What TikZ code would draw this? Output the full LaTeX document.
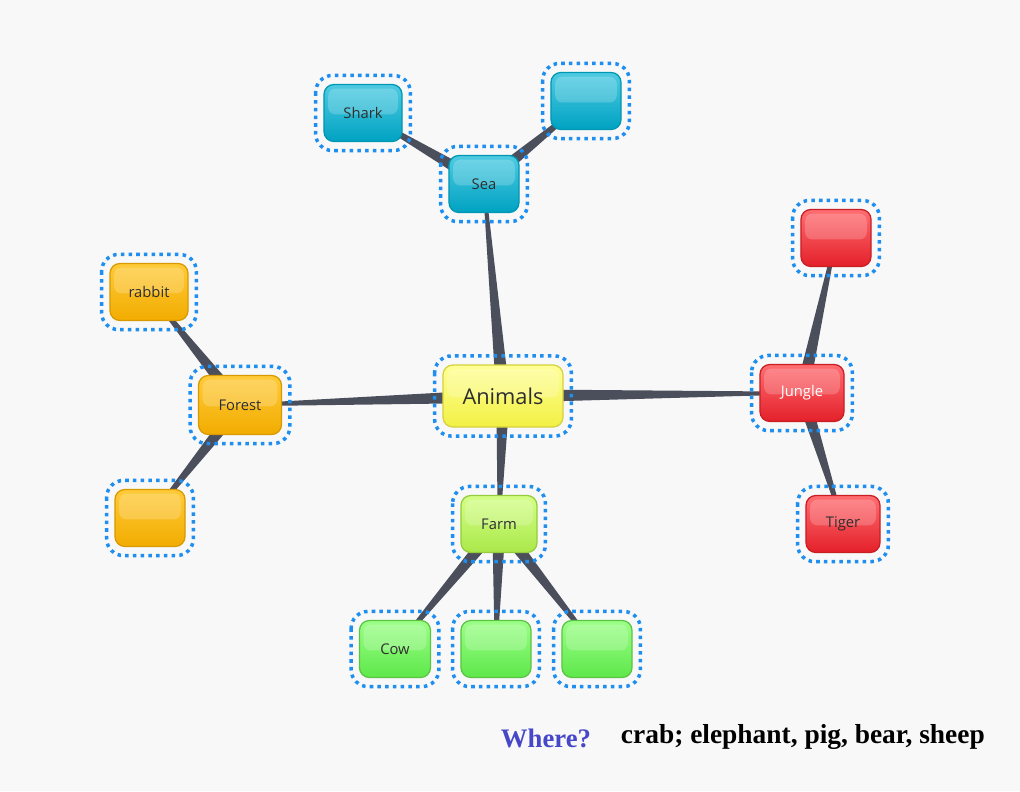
\documentclass[tikz,border=0pt]{standalone}
\usepackage{fontspec}
\setmainfont{Liberation Serif}
\newfontfamily\labelfont{Open Sans}
\usetikzlibrary{calc,backgrounds}

\definecolor{bgcol}{HTML}{F8F8F8}
\definecolor{linkcol}{HTML}{4B4F5C}
\definecolor{ringcol}{HTML}{1E8FF0}
\definecolor{wherecol}{HTML}{4648C8}
\definecolor{seaedge}{HTML}{0096B4}
\definecolor{seatop}{HTML}{4FCBE2}
\definecolor{seabot}{HTML}{00A2C2}
\definecolor{jungleedge}{HTML}{C81E24}
\definecolor{jungletop}{HTML}{FF6E72}
\definecolor{junglebot}{HTML}{E4202A}
\definecolor{forestedge}{HTML}{D89A00}
\definecolor{foresttop}{HTML}{FFCB3A}
\definecolor{forestbot}{HTML}{F2AC00}
\definecolor{farmedge}{HTML}{96CC3C}
\definecolor{farmtop}{HTML}{D4FF88}
\definecolor{farmbot}{HTML}{AAE84A}
\definecolor{fieldedge}{HTML}{5CC444}
\definecolor{fieldtop}{HTML}{9CFF88}
\definecolor{fieldbot}{HTML}{5EE84A}
\definecolor{rootedge}{HTML}{D4D23E}
\definecolor{roottop}{HTML}{FFFF96}
\definecolor{rootbot}{HTML}{F2F044}

\tikzset{
  box/.style={rounded corners=7pt, minimum width=1.75cm, minimum height=1.425cm,
    font=\labelfont\fontsize{10.5}{12}\selectfont, text=black!82, line width=0.9pt,
    path picture={\fill[white,opacity=.2,rounded corners=5pt]
      ([xshift=3pt,yshift=-3pt]path picture bounding box.north west) rectangle
      ([xshift=-3pt,yshift=-1pt]path picture bounding box.east);}},
  seabox/.style={box, draw=seaedge, top color=seatop, bottom color=seabot},
  junglebox/.style={box, draw=jungleedge, top color=jungletop, bottom color=junglebot},
  forestbox/.style={box, draw=forestedge, top color=foresttop, bottom color=forestbot},
  farmbox/.style={box, draw=farmedge, top color=farmtop, bottom color=farmbot},
  fieldbox/.style={box, draw=fieldedge, top color=fieldtop, bottom color=fieldbot},
  rootbox/.style={box, draw=rootedge, top color=roottop, bottom color=rootbot},
  ring/.style={draw=ringcol, line width=2.5pt, dash pattern=on 2.5pt off 3pt, rounded corners=12pt},
  link/.style={fill=linkcol}
}

% tapered link: thick at the parent, thin at the child
\newcommand{\taper}[2]{%
  \fill[link] ($(#1)!4.8pt!90:(#2)$) -- ($(#2)!0.9pt!-90:(#1)$)
    -- ($(#2)!0.9pt!90:(#1)$) -- ($(#1)!4.8pt!-90:(#2)$) -- cycle;}

\begin{document}
\begin{tikzpicture}[x=0.025cm, y=-0.025cm]

\useasboundingbox (0,0) rectangle (1020,791);

\node[rootbox, minimum width=3cm, minimum height=1.55cm,
  font=\labelfont\fontsize{15.5}{18}\selectfont] (animals) at (503,396) {Animals};

\node[seabox] (sea) at (484,184) {Sea};
\node[seabox, minimum width=1.95cm] (shark) at (363,113) {Shark};
\node[seabox] (seaB) at (586,101) {};

\node[junglebox, minimum width=2.1cm, text=white] (jungle) at (802,393) {Jungle};
\node[junglebox] (jungleA) at (836,238) {};
\node[junglebox, minimum width=1.85cm] (tiger) at (843,524) {Tiger};

\node[forestbox, minimum width=2.075cm, minimum height=1.475cm] (forest) at (240,405) {Forest};
\node[forestbox, minimum width=1.95cm] (rabbit) at (149,292) {rabbit};
\node[forestbox] (forestB) at (150,518) {};

\node[farmbox, minimum width=1.9cm] (farm) at (499,524) {Farm};
\node[fieldbox, minimum width=1.775cm] (cow) at (395,649) {Cow};
\node[fieldbox] (farmB) at (496,649) {};
\node[fieldbox] (farmC) at (597,649) {};

\foreach \n in {animals,sea,shark,seaB,jungle,jungleA,tiger,forest,rabbit,forestB,farm,cow,farmB,farmC}
  \draw[ring] ([shift={(-5.5pt,6pt)}]\n.north west) rectangle ([shift={(5.5pt,-6pt)}]\n.south east);

\begin{pgfonlayer}{background}
\fill[bgcol] (0,0) rectangle (1020,791);
\taper{animals}{sea}
\taper{animals}{jungle}
\taper{animals}{forest}
\taper{animals}{farm}
\taper{sea}{shark}
\taper{sea}{seaB}
\taper{jungle}{jungleA}
\taper{jungle}{tiger}
\taper{forest}{rabbit}
\taper{forest}{forestB}
\taper{farm}{cow}
\taper{farm}{farmB}
\taper{farm}{farmC}
\end{pgfonlayer}

\node[anchor=west, text=wherecol, font=\bfseries\fontsize{19}{22}\selectfont] (where) at (496,738) {Where?};
\node[anchor=west, font=\bfseries\fontsize{19.5}{22}\selectfont] (words) at (616,737) {crab; elephant, pig, bear, sheep};

\end{tikzpicture}
\end{document}
